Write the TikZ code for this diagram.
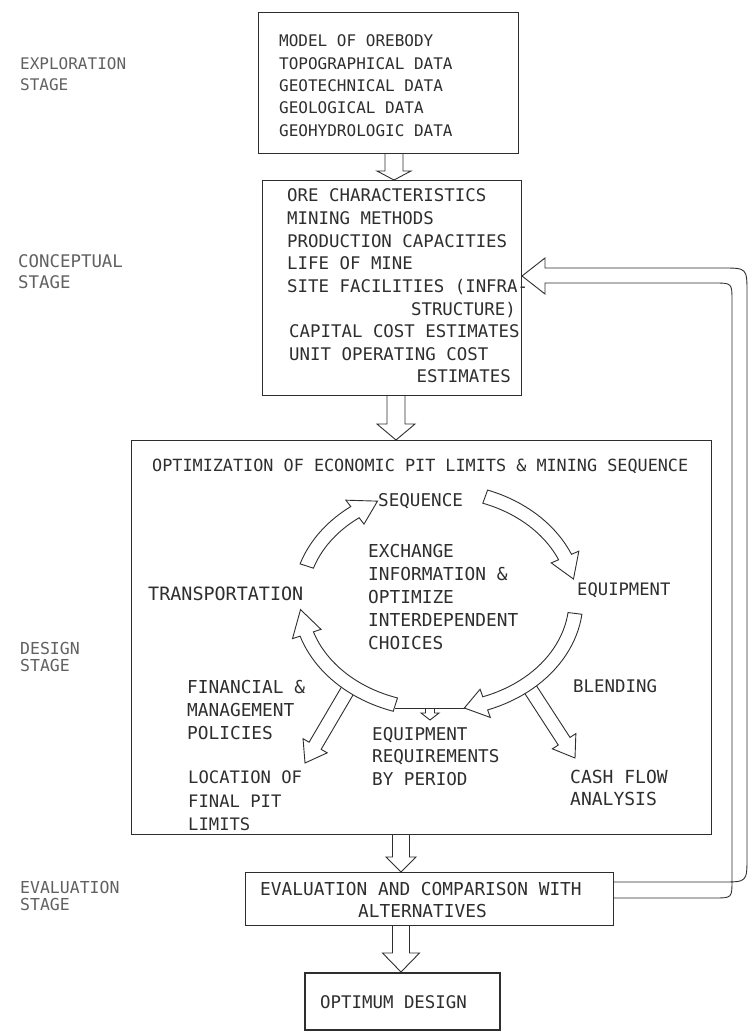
\documentclass[tikz,border=0pt]{standalone}
\usepackage{fontspec}
\newfontfamily\lett{DejaVu Sans Mono}
\usetikzlibrary{calc}
\definecolor{ink}{gray}{0.18}
\newcommand\vblock[5]{% #1 source point, #2 tip point, #3 shaft half width, #4 head half width, #5 head length
  \path (#1) coordinate (vbS) (#2) coordinate (vbT);
  \draw[blk] ($(vbS)+(-#3,0)$) -- ($(vbT)+(-#3,-#5)$) -- ($(vbT)+(-#4,-#5)$) -- (vbT)
     -- ($(vbT)+(#4,-#5)$) -- ($(vbT)+(#3,-#5)$) -- ($(vbS)+(#3,0)$);
}
\newcommand\branch[2]{% #1 start, #2 tip
  \path (#1) coordinate (brA) (#2) coordinate (brB);
  \path ($(brB)!20pt!(brA)$) coordinate (brH);
  \draw[blk, fill=white] ($(brA)!7pt!90:(brB)$) -- ($(brH)!7pt!-90:(brA)$) -- ($(brH)!14pt!-90:(brA)$) -- (brB)
     -- ($(brH)!14pt!90:(brA)$) -- ($(brH)!7pt!90:(brA)$) -- ($(brA)!7pt!-90:(brB)$);
}
% curved block arrow on ellipse centre (438,600), rx 138, ry 110
\newcommand\carrow[3]{% #1 tail angle, #2 head base angle, #3 tip angle
  \draw[blk, fill=white]
    plot[domain=#1:#2, samples=25] ({438+145*cos(\x)},{600+117*sin(\x)})
    -- ({438+153*cos(#2)},{600+125*sin(#2)})
    -- ({438+138*cos(#3)},{600+110*sin(#3)})
    -- ({438+123*cos(#2)},{600+95*sin(#2)})
    -- ({438+131*cos(#2)},{600+103*sin(#2)})
    -- plot[domain=#2:#1, samples=25] ({438+131*cos(\x)},{600+103*sin(\x)})
    -- cycle;
}
\begin{document}
\begin{tikzpicture}[x=1pt,y=-1pt,
  box/.style={draw=ink, line width=1pt, inner sep=0pt},
  blk/.style={draw=ink, line width=0.9pt, line join=miter},
  lbl/.style={anchor=base west, inner sep=0pt, text=ink, font=\lett\fontsize{#1}{#1}\selectfont},
  lbl/.default=17.4,
  lblr/.style={lbl=#1, anchor=base east},
  lblr/.default=17.4,
  stg/.style={lbl=#1, text=black!62},
  stg/.default=17.4]
\useasboundingbox (0,0) rectangle (749,1032);
\fill[white] (0,0) rectangle (749,1032);

% boxes
\node[box, anchor=north west, minimum width=260pt, minimum height=141pt] (b1) at (258,12) {};
\node[box, anchor=north west, minimum width=259pt, minimum height=215pt] (b2) at (262,180) {};
\node[box, anchor=north west, minimum width=580pt, minimum height=394pt] (b3) at (131,440) {};
\node[box, anchor=north west, minimum width=368pt, minimum height=53pt] (b4) at (245,872) {};
\node[box, line width=1.6pt, anchor=north west, minimum width=195pt, minimum height=57pt] (b5) at (304,972) {};

% stage labels
\node[stg=16] (s1a) at (20,70) {EXPLORATION};
\node[stg=16] (s1b) at (20,91) {STAGE};
\node[stg] (s2a) at (18,267) {CONCEPTUAL};
\node[stg] (s2b) at (18,288) {STAGE};
\node[stg=16.5] (s3a) at (20,654) {DESIGN};
\node[stg=16.5] (s3b) at (20,671) {STAGE};
\node[stg=16.5] (s4a) at (20,893) {EVALUATION};
\node[stg=16.5] (s4b) at (20,910) {STAGE};

% box 1 text
\node[lbl=16] (t11) at (279,47) {MODEL OF OREBODY};
\node[lbl=16] (t12) at (279,70) {TOPOGRAPHICAL DATA};
\node[lbl=16] (t13) at (279,92) {GEOTECHNICAL DATA};
\node[lbl=16] (t14) at (279,114) {GEOLOGICAL DATA};
\node[lbl=16] (t15) at (279,137) {GEOHYDROLOGIC DATA};

% box 2 text
\node[lbl] (t21) at (287,202) {ORE CHARACTERISTICS};
\node[lbl] (t22) at (287,224.6) {MINING METHODS};
\node[lbl] (t23) at (287,247.2) {PRODUCTION CAPACITIES};
\node[lbl] (t24) at (287,269.8) {LIFE OF MINE};
\node[lbl] (t25) at (287,292.4) {SITE FACILITIES (INFRA-};
\node[lblr] (t26) at (516,315) {STRUCTURE)};
\node[lbl] (t27) at (289,337.6) {CAPITAL COST ESTIMATES};
\node[lbl] (t28) at (289,360.2) {UNIT OPERATING COST};
\node[lblr] (t29) at (511,382.8) {ESTIMATES};

% box 3 text
\node[lbl=16.8] (t30) at (152,471) {OPTIMIZATION OF ECONOMIC PIT LIMITS \& MINING SEQUENCE};
\node[lbl=17.6] (tseq) at (378,506) {SEQUENCE};
\node[lbl=17.8] (tx1) at (368,557) {EXCHANGE};
\node[lbl=17.8] (tx2) at (368,580) {INFORMATION \&};
\node[lbl=17.8] (tx3) at (368,603) {OPTIMIZE};
\node[lbl=17.8] (tx4) at (368,626) {INTERDEPENDENT};
\node[lbl=17.8] (tx5) at (368,649) {CHOICES};
\node[lbl=18.4] (ttr) at (148,600) {TRANSPORTATION};
\node[lbl=17.2] (teq) at (577,595) {EQUIPMENT};
\node[lbl=17.8] (tf1) at (187,693) {FINANCIAL \&};
\node[lbl=17.8] (tf2) at (187,716) {MANAGEMENT};
\node[lbl=17.8] (tf3) at (187,739) {POLICIES};
\node[lbl=17.2] (tl1) at (188,783) {LOCATION OF};
\node[lbl=17.2] (tl2) at (188,807) {FINAL PIT};
\node[lbl=17.2] (tl3) at (188,830) {LIMITS};
\node[lbl=17.6] (tr1) at (372,740) {EQUIPMENT};
\node[lbl=17.6] (tr2) at (372,762) {REQUIREMENTS};
\node[lbl=17.6] (tr3) at (372,785) {BY PERIOD};
\node[lbl=17.4] (tbl) at (573,692) {BLENDING};
\node[lbl=18] (tc1) at (570,783) {CASH FLOW};
\node[lbl=18] (tc2) at (570,805) {ANALYSIS};

% evaluation and final
\node[lbl=17.8] (t41) at (260,895) {EVALUATION AND COMPARISON WITH};
\node[lbl=17.8] (t42) at (358,917) {ALTERNATIVES};
\node[lbl=17.4] (t51) at (320,1008) {OPTIMUM DESIGN};

% straight block arrows between boxes
\coordinate (ax1) at (394,0);
\coordinate (ax2) at (396,0);
\coordinate (ax3) at (401,0);
\vblock{b1.south -| ax1}{b2.north -| ax1}{9}{17}{9}
\vblock{b2.south -| ax2}{b3.north -| ax2}{9}{19}{16}
\vblock{b3.south -| ax3}{b4.north -| ax3}{8.5}{15}{15}
\vblock{b4.south -| ax3}{b5.north -| ax3}{8.5}{18.5}{19}

% feedback arrow from evaluation back to conceptual stage
\coordinate (fb) at (0,276);
\draw[blk] ($(b4.north east)+(0,10)$) -- (722,882) .. controls (747,882) .. (747,857)
  -- (747,293) .. controls (747,268) .. (722,268) -- (545,268) -- (545,258)
  -- (b2.east |- fb) -- (545,294) -- (545,283) -- (714,283) .. controls (732,283) .. (732,301)
  -- (732,880) .. controls (732,898) .. (714,898) -- ($(b4.north east)+(0,26)$);

% bottom connecting line and small arrow
\draw[blk] (395,708) -- (465,708);
\draw[blk] (425.5,708) -- (425.5,713) -- (421,713) -- (430,720) -- (439,713) -- (434.5,713) -- (434.5,708);

% branch arrows
\branch{349,688}{305,763}
\branch{527,684}{575,758}

% cycle arrows
\carrow{198}{233}{244}
\carrow{290}{337}{349}
\carrow{7}{70}{79}
\carrow{108}{162}{175}
\end{tikzpicture}
\end{document}
